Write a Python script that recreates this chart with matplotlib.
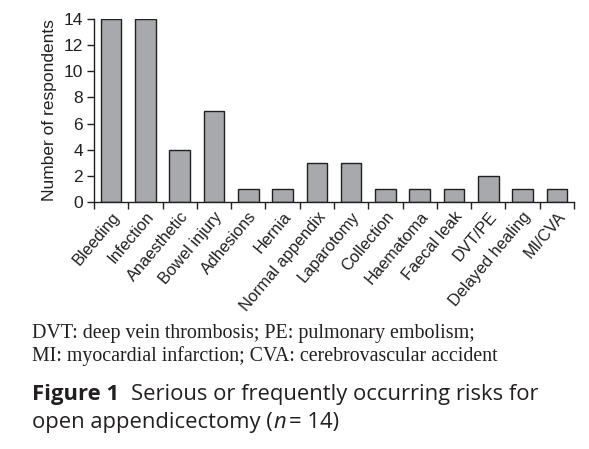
import numpy as np
import matplotlib.pyplot as plt
from matplotlib.ticker import FixedLocator, NullFormatter

# risks named by respondents
risks = ["Bleeding", "Infection", "Anaesthetic", "Bowel injury", "Adhesions",
         "Hernia", "Normal appendix", "Laparotomy", "Collection", "Haematoma",
         "Faecal leak", "DVT/PE", "Delayed healing", "MI/CVA"]
counts = [14, 14, 4, 7, 1, 1, 3, 3, 1, 1, 1, 2, 1, 1]
y_ticks = [0, 2, 4, 6, 8, 10, 12, 14]

plt.rcParams['font.family'] = ['Liberation Sans', 'DejaVu Sans']
INK = '#231f20'

W, H = 589, 449
fig = plt.figure(figsize=(W / 100, H / 100), dpi=100)
ax = fig.add_axes([94 / W, 1 - 202 / H, (574 - 94) / W, (202 - 19) / H])

x = np.arange(len(risks))
ax.bar(x, counts, width=0.6, color='#a7a9ac', edgecolor=INK, linewidth=1.0)

ax.set_xlim(-0.5, len(risks) - 0.5)
ax.set_ylim(0, 14)
ax.set_yticks(y_ticks)
ax.tick_params(axis='y', labelsize=12.5, length=5, width=1, pad=3, colors=INK)
ax.set_ylabel("Number of respondents", fontsize=12.5, labelpad=5, color=INK)

# boundary ticks (major) and labels at centres (minor)
ax.xaxis.set_major_locator(FixedLocator(np.arange(-0.5, len(risks), 1.0)))
ax.xaxis.set_major_formatter(NullFormatter())
ax.xaxis.set_minor_locator(FixedLocator(x))
ax.set_xticklabels(risks, minor=True, rotation=50, ha='right',
                   rotation_mode='anchor', fontsize=11.8, color=INK)
ax.tick_params(axis='x', which='major', length=5, width=1, colors=INK)
ax.tick_params(axis='x', which='minor', length=0, pad=5)

for side in ['top', 'right']:
    ax.spines[side].set_visible(False)
for side in ['left', 'bottom']:
    ax.spines[side].set_linewidth(1.0)
    ax.spines[side].set_color(INK)

r = fig.canvas.get_renderer()


def put_line(pieces, x0, base, size):
    """draw text pieces one after another on the same baseline"""
    texts = []
    xpos = x0
    for s, kw, gap in pieces:
        t = fig.text((xpos + gap) / W, 1 - base / H, s, fontsize=size,
                     va='baseline', **kw)
        xpos = t.get_window_extent(r).x1
        texts.append(t)
    return texts


def fit_line(pieces, x0, base, target_w, size):
    """same as put_line, with the font size scaled to fill target_w pixels"""
    texts = put_line(pieces, x0, base, size)
    span = texts[-1].get_window_extent(r).x1 - x0
    for t in texts:
        t.remove()
    size = size * target_w / span
    return put_line(pieces, x0, base, size), size


serif = dict(family='Liberation Serif', color=INK)
fit_line([("DVT: deep vein thrombosis; PE: pulmonary embolism;", serif, 0)],
         32, 338, 477 - 32, 14)
fit_line([("MI: myocardial infarction; CVA: cerebrovascular accident", serif, 0)],
         32, 361, 497 - 32, 14)

sans = dict(family='Open Sans', color=INK)
bold = dict(family='Open Sans', color=INK, fontweight='bold')
ital = dict(family='Open Sans', color=INK, style='italic')
_, cap_size = fit_line([("Figure 1", bold, 0),
                        ("Serious or frequently occurring risks for", sans, 12)],
                       32, 400, 539 - 32, 15)
put_line([("open appendicectomy (", sans, 0), ("n", ital, 1), ("= 14)", sans, 3)],
         32, 428, cap_size)

fig.savefig('out.png', dpi=100)
